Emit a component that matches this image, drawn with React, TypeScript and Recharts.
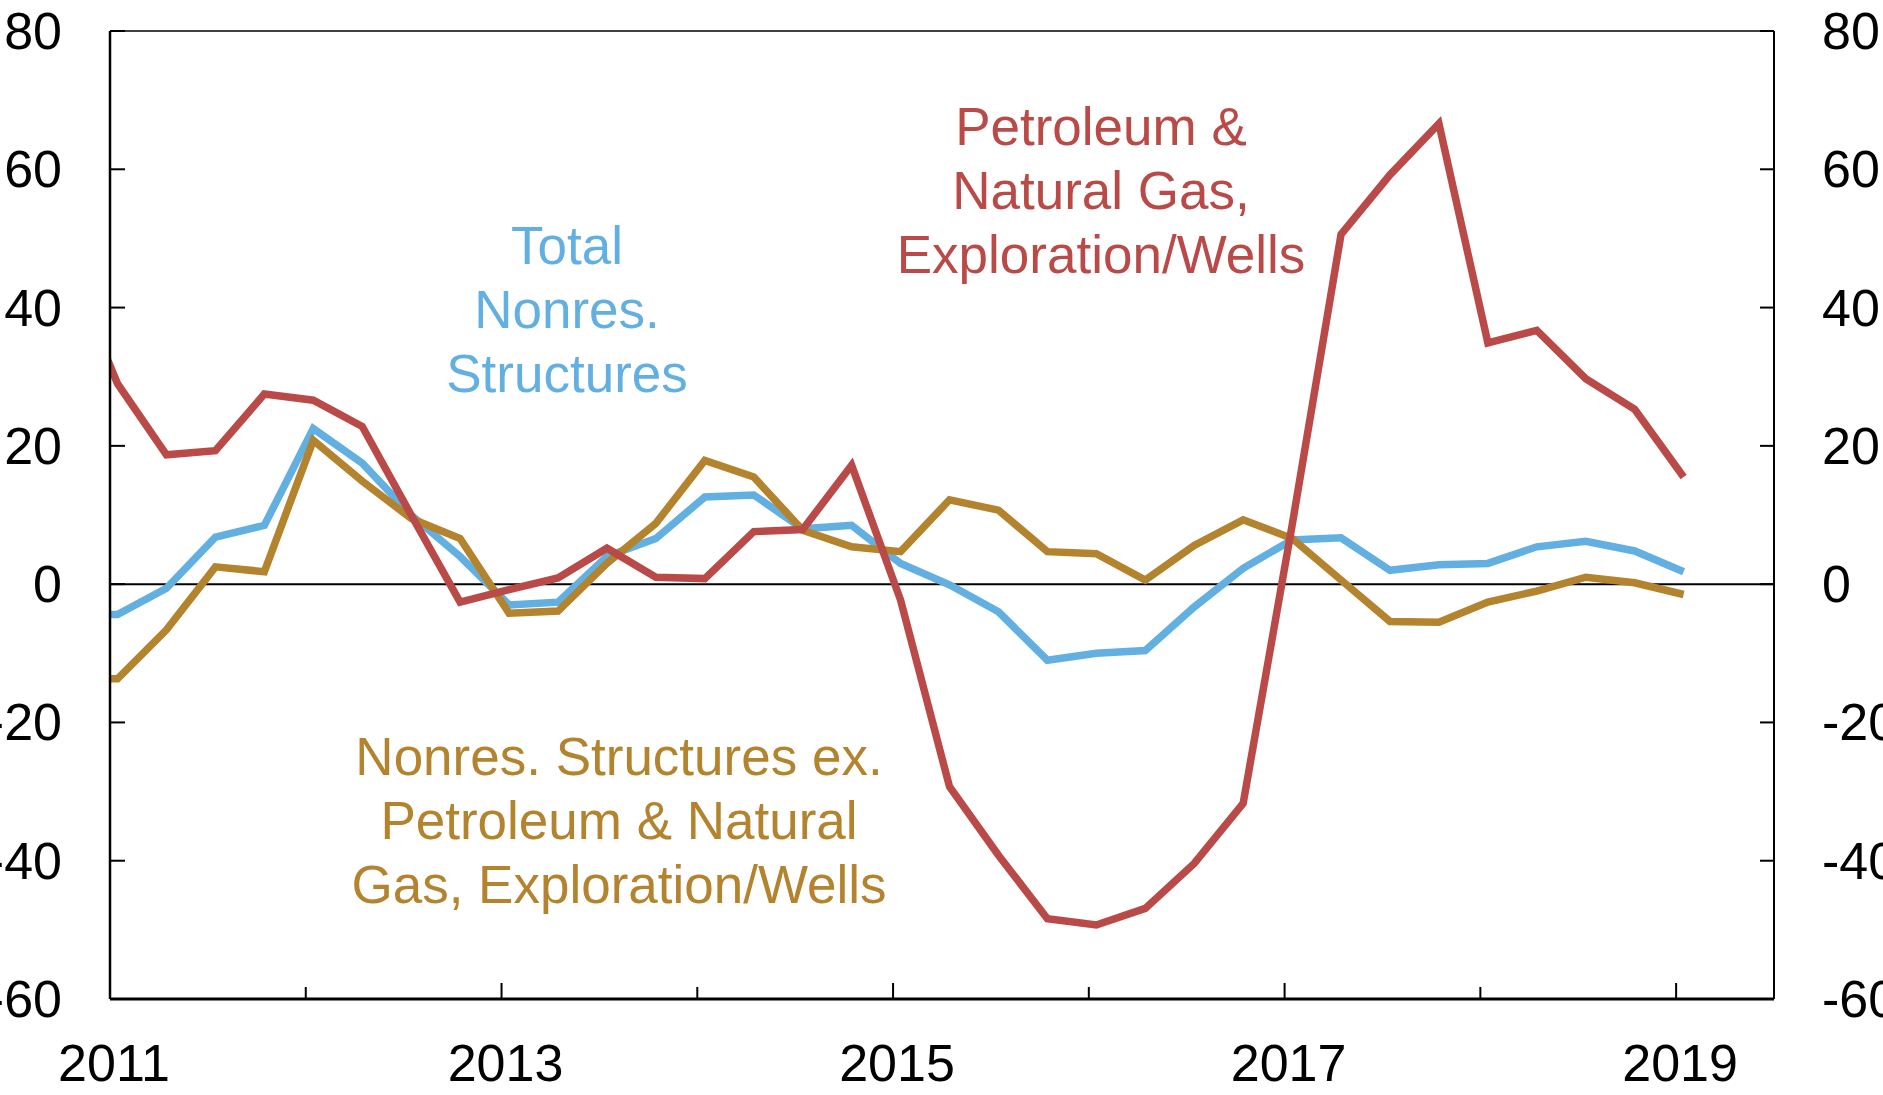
import { LineChart, Line, XAxis, YAxis, ReferenceLine, Customized } from "recharts";

// quarterly observations (4-quarter % change), dated mid-month of quarter start
const dates = [
  "2010-10-15",
  "2011-01-15", "2011-04-15", "2011-07-15", "2011-10-15",
  "2012-01-15", "2012-04-15", "2012-07-15", "2012-10-15",
  "2013-01-15", "2013-04-15", "2013-07-15", "2013-10-15",
  "2014-01-15", "2014-04-15", "2014-07-15", "2014-10-15",
  "2015-01-15", "2015-04-15", "2015-07-15", "2015-10-15",
  "2016-01-15", "2016-04-15", "2016-07-15", "2016-10-15",
  "2017-01-15", "2017-04-15", "2017-07-15", "2017-10-15",
  "2018-01-15", "2018-04-15", "2018-07-15", "2018-10-15",
  "2019-01-15",
];

const totalNonres = [
  -4.3,
  -4.4, -0.6, 6.8, 8.5,
  22.5, 17.5, 10.0, 4.0,
  -3.0, -2.6, 4.0, 6.6,
  12.6, 12.9, 8.0, 8.5,
  3.0, -0.1, -4.0, -11.0,
  -10.0, -9.6, -3.3, 2.3,
  6.4, 6.7, 2.0, 2.8,
  3.0, 5.4, 6.2, 4.8,
  1.8,
];

const exPetroleum = [
  -13.7,
  -13.7, -6.6, 2.5, 1.8,
  20.8, 14.9, 9.5, 6.6,
  -4.2, -3.9, 3.0, 8.8,
  17.9, 15.5, 7.8, 5.4,
  4.7, 12.2, 10.7, 4.7,
  4.4, 0.6, 5.6, 9.3,
  6.6, 0.6, -5.4, -5.5,
  -2.6, -1.0, 1.0, 0.2,
  -1.5,
];

const petroleumWells = [
  46.0,
  29.0, 18.7, 19.3, 27.5,
  26.6, 22.8, 10.0, -2.6,
  -0.8, 0.9, 5.2, 1.0,
  0.8, 7.6, 7.9, 17.2,
  -2.3, -29.3, -39.2, -48.4,
  -49.3, -46.9, -40.4, -31.7,
  8.5, 50.6, 59.2, 66.6,
  34.9, 36.7, 29.7, 25.3,
  15.5,
];

const yearTicks = [2011, 2012, 2013, 2014, 2015, 2016, 2017, 2018, 2019];
const valueTicks = [-60, -40, -20, 0, 20, 40, 60, 80];

const BLUE = "#62AFE1";
const GOLD = "#B4832D";
const RED = "#B94A48";
const FONT = "'Liberation Sans', Arial, Helvetica, sans-serif";

const toYear = (s: string) => {
  const [y, m, d] = s.split("-").map(Number);
  return y + (m - 1) / 12 + (d - 1) / 365;
};

const data = dates.map((d, i) => ({
  t: toYear(d),
  total: totalNonres[i],
  ex: exPetroleum[i],
  petro: petroleumWells[i],
}));

const LeftTick = ({ x, y, payload }: any) => (
  <g>
    <line x1={x} y1={y} x2={x + 15} y2={y} stroke="#000" strokeWidth={2} />
    <text x={x - 48} y={y} textAnchor="end" dominantBaseline="central" fontSize={52} fontFamily={FONT} fill="#000">
      {payload.value}
    </text>
  </g>
);

const RightTick = ({ x, y, payload }: any) => (
  <g>
    <line x1={x - 14} y1={y} x2={x} y2={y} stroke="#000" strokeWidth={2} />
    <text x={x + 48} y={y} textAnchor="start" dominantBaseline="central" fontSize={52} fontFamily={FONT} fill="#000">
      {payload.value}
    </text>
  </g>
);

const BottomTick = ({ x, y, payload }: any) => {
  const labelled = payload.value % 2 === 1;
  return (
    <g>
      <line x1={x} y1={y} x2={x} y2={y - (labelled ? 16 : 12)} stroke="#000" strokeWidth={2} />
      {labelled && (
        <text x={x + 4} y={y + 82} textAnchor="middle" fontSize={52} fontFamily={FONT} fill="#000">
          {payload.value}
        </text>
      )}
    </g>
  );
};

const Notes = () => {
  const block = (lines: string[], x: number, y0: number, color: string) =>
    lines.map((s, i) => (
      <text key={s} x={x} y={y0 + i * 64} textAnchor="middle" fontSize={53} fontFamily={FONT} fill={color}>
        {s}
      </text>
    ));
  return (
    <g>
      {block(["Total", "Nonres.", "Structures"], 567, 264, BLUE)}
      {block(["Petroleum &", "Natural Gas,", "Exploration/Wells"], 1101, 145, RED)}
      {block(["Nonres. Structures ex.", "Petroleum & Natural", "Gas, Exploration/Wells"], 619, 775, GOLD)}
    </g>
  );
};

export default function App() {
  return (
    <div style={{ position: "fixed", left: 0, top: 0, width: 1883, height: 1095, overflow: "hidden", background: "#fff" }}>
      <LineChart width={1883} height={1095} data={data} margin={{ top: 31, right: 0, bottom: 0, left: 0 }}>
        <XAxis
          dataKey="t"
          type="number"
          domain={[2011, 2019.5]}
          allowDataOverflow
          ticks={yearTicks}
          interval={0}
          height={96}
          tickSize={0}
          tickMargin={0}
          tickLine={false}
          tick={<BottomTick />}
          axisLine={{ stroke: "#000", strokeWidth: 3 }}
        />
        <YAxis
          yAxisId="left"
          domain={[-60, 80]}
          ticks={valueTicks}
          interval={0}
          width={110}
          tickSize={0}
          tickMargin={0}
          tickLine={false}
          tick={<LeftTick />}
          axisLine={{ stroke: "#000", strokeWidth: 2.5 }}
        />
        <YAxis
          yAxisId="right"
          orientation="right"
          domain={[-60, 80]}
          ticks={valueTicks}
          interval={0}
          width={109}
          tickSize={0}
          tickMargin={0}
          tickLine={false}
          tick={<RightTick />}
          axisLine={{ stroke: "#000", strokeWidth: 2 }}
        />
        <ReferenceLine yAxisId="left" y={80} stroke="#000" strokeWidth={1.5} />
        <ReferenceLine yAxisId="left" y={0} stroke="#000" strokeWidth={2} />
        {/* invisible copy so the right-hand axis has data bound to it */}
        <Line yAxisId="right" type="linear" dataKey="total" stroke="none" dot={false} activeDot={false} legendType="none" isAnimationActive={false} />
        <Line yAxisId="left" type="linear" dataKey="total" stroke={BLUE} strokeWidth={7.5} dot={false} isAnimationActive={false} />
        <Line yAxisId="left" type="linear" dataKey="ex" stroke={GOLD} strokeWidth={7.5} dot={false} isAnimationActive={false} />
        <Line yAxisId="left" type="linear" dataKey="petro" stroke={RED} strokeWidth={7.5} dot={false} isAnimationActive={false} />
        <Customized component={Notes} />
      </LineChart>
    </div>
  );
}
